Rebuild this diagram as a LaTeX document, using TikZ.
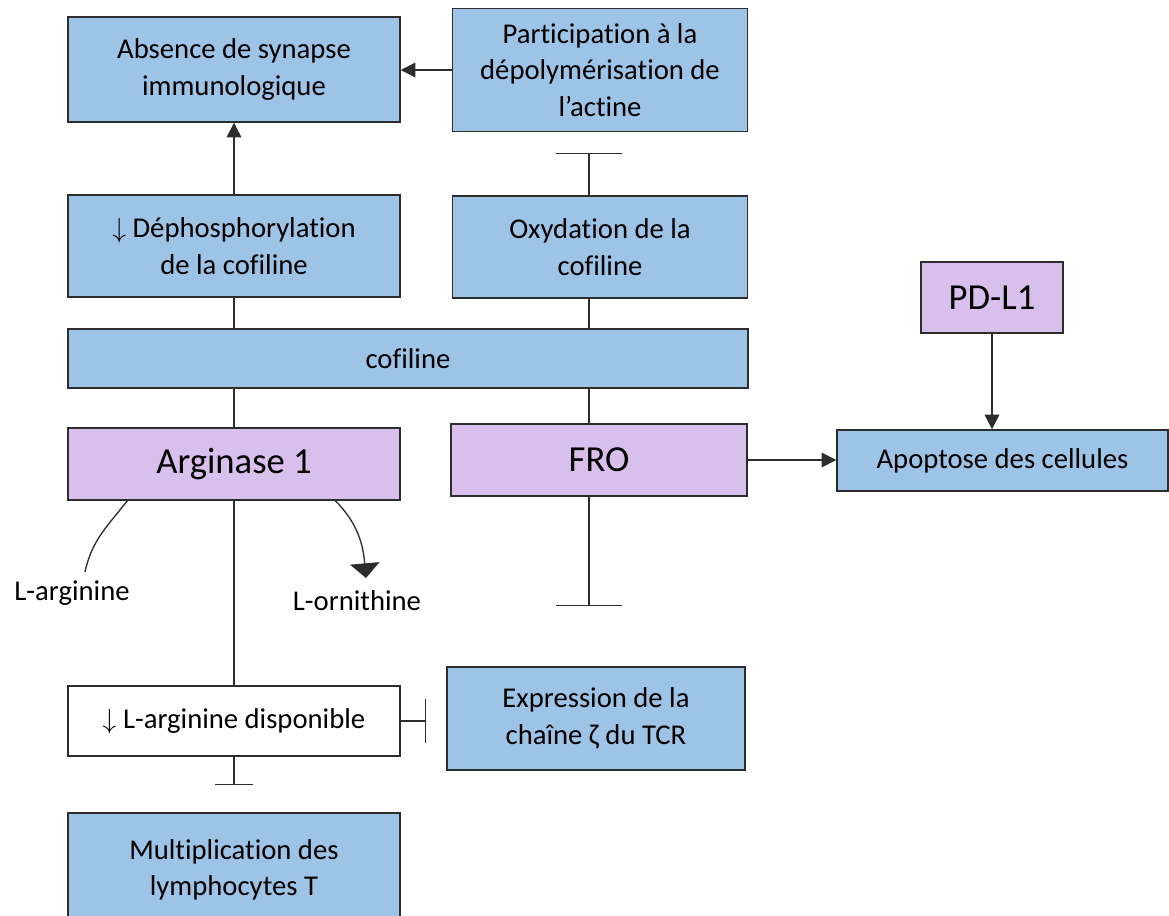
\documentclass[tikz,border=0pt]{standalone}
\usepackage{fontspec}
\setmainfont[Ligatures={NoCommon,NoContextual},RawFeature={-liga;-clig}]{Carlito}
\usetikzlibrary{arrows.meta, calc}
\definecolor{boxblue}{RGB}{157,195,230}
\definecolor{boxlilac}{RGB}{217,192,236}
\definecolor{edge}{RGB}{45,45,45}

\begin{document}
\begin{tikzpicture}[x=0.75pt, y=-0.75pt, font=\fontsize{21.5}{27.5}\selectfont,
    bluebox/.style={draw=edge, line width=1.1pt, fill=boxblue, align=center, inner sep=0pt},
    lilacbox/.style={draw=edge, line width=1.1pt, fill=boxlilac, align=center, inner sep=0pt, font=\fontsize{27.5}{33}\selectfont},
    whitebox/.style={draw=edge, line width=1.1pt, fill=white, align=center, inner sep=0pt},
    link/.style={draw=edge, line width=1pt},
    ]
    \useasboundingbox (0,0) rectangle (1169,915);

    \coordinate (midcol) at (589,358);
    \coordinate (oxbar) at (589,153);
    \coordinate (frobar) at (589,606);
    \coordinate (exbar) at (426,718);
    \coordinate (mubar) at (233,785);
    \coordinate (larg) at (85,572);
    \coordinate (orn) at (366,578);

    \node[bluebox, minimum width=249pt, minimum height=78.75pt] (absence) at (234,69.5) {Absence de synapse\\immunologique};
    \node[bluebox, minimum width=221.25pt, minimum height=92.25pt] (particip) at (600,70) {Participation à la\\dépolymérisation de\\l’actine};
    \node[bluebox, minimum width=249pt, minimum height=76.5pt] (dephos) at (234,246) {$\downarrow$ Déphosphorylation\\de la cof\kern0pt iline};
    \node[bluebox, minimum width=221.25pt, minimum height=76.5pt] (oxyd) at (600,247) {Oxydation de la\\cof\kern0pt iline};
    \node[bluebox, minimum width=510pt, minimum height=44.25pt] (cofiline) at (408,358.5) {cof\kern0pt iline};
    \node[lilacbox, minimum width=249pt, minimum height=54pt] (arginase) at (234,464) {Arginase 1};
    \node[lilacbox, minimum width=222pt, minimum height=54pt] (fro) at (599,460) {FRO};
    \node[lilacbox, minimum width=106.5pt, minimum height=53.25pt] (pdl1) at (992,297.5) {PD-L1};
    \node[bluebox, minimum width=248.25pt, minimum height=45.75pt] (apoptose) at (1002.5,460.5) {Apoptose des cellules};
    \node[whitebox, minimum width=249pt, minimum height=52.5pt] (argdispo) at (234,721) {$\downarrow$ L-arginine disponible};
    \node[bluebox, minimum width=223.5pt, minimum height=77.25pt] (expression) at (596,718.5) {Expression de la\\chaîne ζ du TCR};
    \node[bluebox, minimum width=249pt, minimum height=85.5pt] (multip) at (234,870) {Multiplication des\\lymphocytes T};

    \node (larglabel) at (72,593) {L-arginine};
    \node (ornlabel) at (357,601) {L-ornithine};

    \draw[link, -{Triangle[width=11pt,length=11pt]}] (particip.west) -- (particip.west -| absence.east);
    \draw[link, -{Triangle[width=11pt,length=11pt]}] (dephos.north) -- (absence.south);
    \draw[link, -{Bar[width=49pt]}] (oxyd.north -| oxbar) -- (oxbar);
    \draw[link] (dephos.south) -- (dephos.south |- cofiline.north);
    \draw[link] (oxyd.south -| midcol) -- (cofiline.north -| midcol);
    \draw[link] (cofiline.south -| arginase.north) -- (arginase.north);
    \draw[link] (cofiline.south -| midcol) -- (fro.north -| midcol);
    \draw[link, -{Triangle[width=11pt,length=11pt]}] (fro.east) -- (fro.east -| apoptose.west);
    \draw[link, -{Triangle[width=11pt,length=11pt]}] (pdl1.south) -- (pdl1.south |- apoptose.north);
    \draw[link, -{Bar[width=49pt]}] (fro.south -| frobar) -- (frobar);
    \draw[link] (arginase.south) -- (argdispo.north);
    \draw[link] ([xshift=-80pt]arginase.south) to[out=-128, in=78] (larg);
    \draw[link, -{Triangle[width=22pt,length=11pt]}] ([xshift=76pt]arginase.south) to[out=-45, in=95] (orn);
    \draw[link, -{Bar[width=33pt]}] (argdispo.east) -- (argdispo.east -| exbar);
    \draw[link, -{Bar[width=29pt]}] (argdispo.south) -- (argdispo.south |- mubar);
  \end{tikzpicture}
\end{document}
